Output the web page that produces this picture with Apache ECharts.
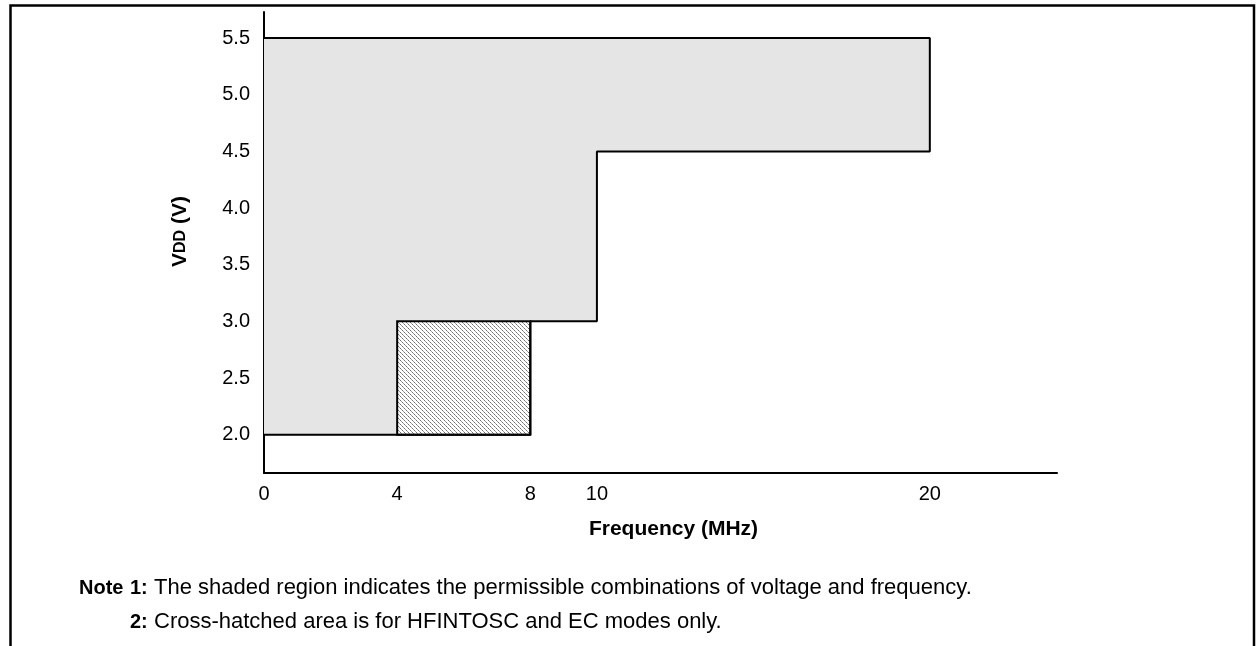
<!DOCTYPE html>
<html lang="en">
<head>
    <meta charset="UTF-8" />
    <title>VDD vs Frequency</title>
    <script src="https://cdn.jsdelivr.net/npm/echarts@6/dist/echarts.min.js"></script>
    <style>
        html, body { margin: 0; padding: 0; background: #fff; }
    </style>
</head>
<body>
    <div id="main" style="width: 1257px; height: 646px"></div>
    <script>
        // tick labels
        var freqTicks = [0, 4, 8, 10, 20];
        var vddTicks = [2.0, 2.5, 3.0, 3.5, 4.0, 4.5, 5.0, 5.5];

        // shaded (permissible) region, corners in MHz / V
        var shadedFreq = [0, 0, 20, 20, 10, 10, 4, 4];
        var shadedVdd = [2.0, 5.5, 5.5, 4.5, 4.5, 3.0, 3.0, 2.0];

        // cross-hatched area (HFINTOSC and EC only)
        var hatchFreq = [4, 4, 8, 8];
        var hatchVdd = [2.0, 3.0, 3.0, 2.0];

        // black outline of the whole region
        var outlineFreq = [0, 8, 8, 10, 10, 20, 20, 0];
        var outlineVdd = [2.0, 2.0, 3.0, 3.0, 4.5, 4.5, 5.5, 5.5];

        var FONT = "'Liberation Sans', Arial, sans-serif";

        // small hatch tile: 1px dotted diagonals
        var tile = document.createElement("canvas");
        tile.width = 4;
        tile.height = 4;
        var ctx = tile.getContext("2d");
        ctx.fillStyle = "#ffffff";
        ctx.fillRect(0, 0, 4, 4);
        for (var i = 0; i < 4; i++) {
            ctx.fillStyle = i % 2 ? "#a0a0a0" : "#707070";
            ctx.fillRect(i, i, 1, 1);
        }

        function polygonSeries(xs, ys, style, z) {
            return {
                type: "custom",
                z: z,
                silent: true,
                data: [0],
                renderItem: function (params, api) {
                    var pts = [];
                    for (var k = 0; k < xs.length; k++) {
                        pts.push(api.coord([xs[k], ys[k]]));
                    }
                    return { type: "polygon", shape: { points: pts }, style: style };
                },
            };
        }

        var outline = [];
        for (var j = 0; j < outlineFreq.length; j++) {
            outline.push([outlineFreq[j], outlineVdd[j]]);
        }

        function noteText(x, y, text, bold, size) {
            return {
                type: "text",
                x: x,
                y: y,
                silent: true,
                style: {
                    text: text,
                    font: (bold ? "bold " : "") + size + "px " + FONT,
                    fill: "#000",
                    verticalAlign: "middle",
                },
            };
        }

        var chart = echarts.init(document.getElementById("main"));

        var option = {
            animation: false,
            backgroundColor: "#fff",
            grid: {
                left: 264,
                right: 200,
                top: 12,
                bottom: 173,
                outerBoundsMode: "none",
            },
            xAxis: {
                type: "value",
                min: 0,
                max: 23.82,
                name: "Frequency (MHz)",
                nameLocation: "middle",
                nameGap: 46,
                nameTextStyle: {
                    fontFamily: FONT,
                    fontWeight: "bold",
                    fontSize: 21,
                    color: "#000",
                    padding: [0, 0, 0, 26],
                },
                axisLine: { lineStyle: { color: "#000", width: 2 } },
                axisTick: { show: false },
                splitLine: { show: false },
                axisLabel: {
                    customValues: freqTicks,
                    margin: 11,
                    fontFamily: FONT,
                    fontSize: 20,
                    color: "#000",
                },
            },
            yAxis: {
                type: "value",
                min: 1.662,
                max: 5.73,
                name: "V{s|DD} (V)",
                nameLocation: "middle",
                nameRotate: 90,
                nameGap: 73,
                nameTextStyle: {
                    fontFamily: FONT,
                    fontWeight: "bold",
                    fontSize: 21,
                    color: "#000",
                    padding: [0, 0, 0, 22],
                    rich: {
                        s: { fontFamily: FONT, fontWeight: "bold", fontSize: 16, color: "#000" },
                    },
                },
                axisLine: { lineStyle: { color: "#000", width: 2 } },
                axisTick: { show: false },
                splitLine: { show: false },
                axisLabel: {
                    customValues: vddTicks,
                    margin: 14,
                    fontFamily: FONT,
                    fontSize: 20,
                    color: "#000",
                    formatter: function (v) {
                        return v.toFixed(1);
                    },
                },
            },
            series: [
                polygonSeries(shadedFreq, shadedVdd, { fill: "#e5e5e5" }, 1),
                polygonSeries(
                    hatchFreq,
                    hatchVdd,
                    { fill: { image: tile, repeat: "repeat" }, stroke: "#000", lineWidth: 2 },
                    2
                ),
                {
                    type: "line",
                    z: 3,
                    silent: true,
                    data: outline,
                    showSymbol: false,
                    symbol: "none",
                    lineStyle: { color: "#000", width: 2 },
                },
            ],
            graphic: [
                {
                    type: "polyline",
                    silent: true,
                    shape: { points: [[10.5, 646], [10.5, 5.5], [1254, 5.5], [1254, 646]] },
                    style: { stroke: "#000", lineWidth: 2.5, fill: null },
                },
                noteText(79, 588, "Note", true, 20),
                noteText(130, 588, "1:", true, 20),
                noteText(154, 588, "The shaded region indicates the permissible combinations of voltage and frequency.", false, 22),
                noteText(130, 622, "2:", true, 20),
                noteText(154, 622, "Cross-hatched area is for HFINTOSC and EC modes only.", false, 22),
            ],
        };
        chart.setOption(option);
    </script>
</body>
</html>
